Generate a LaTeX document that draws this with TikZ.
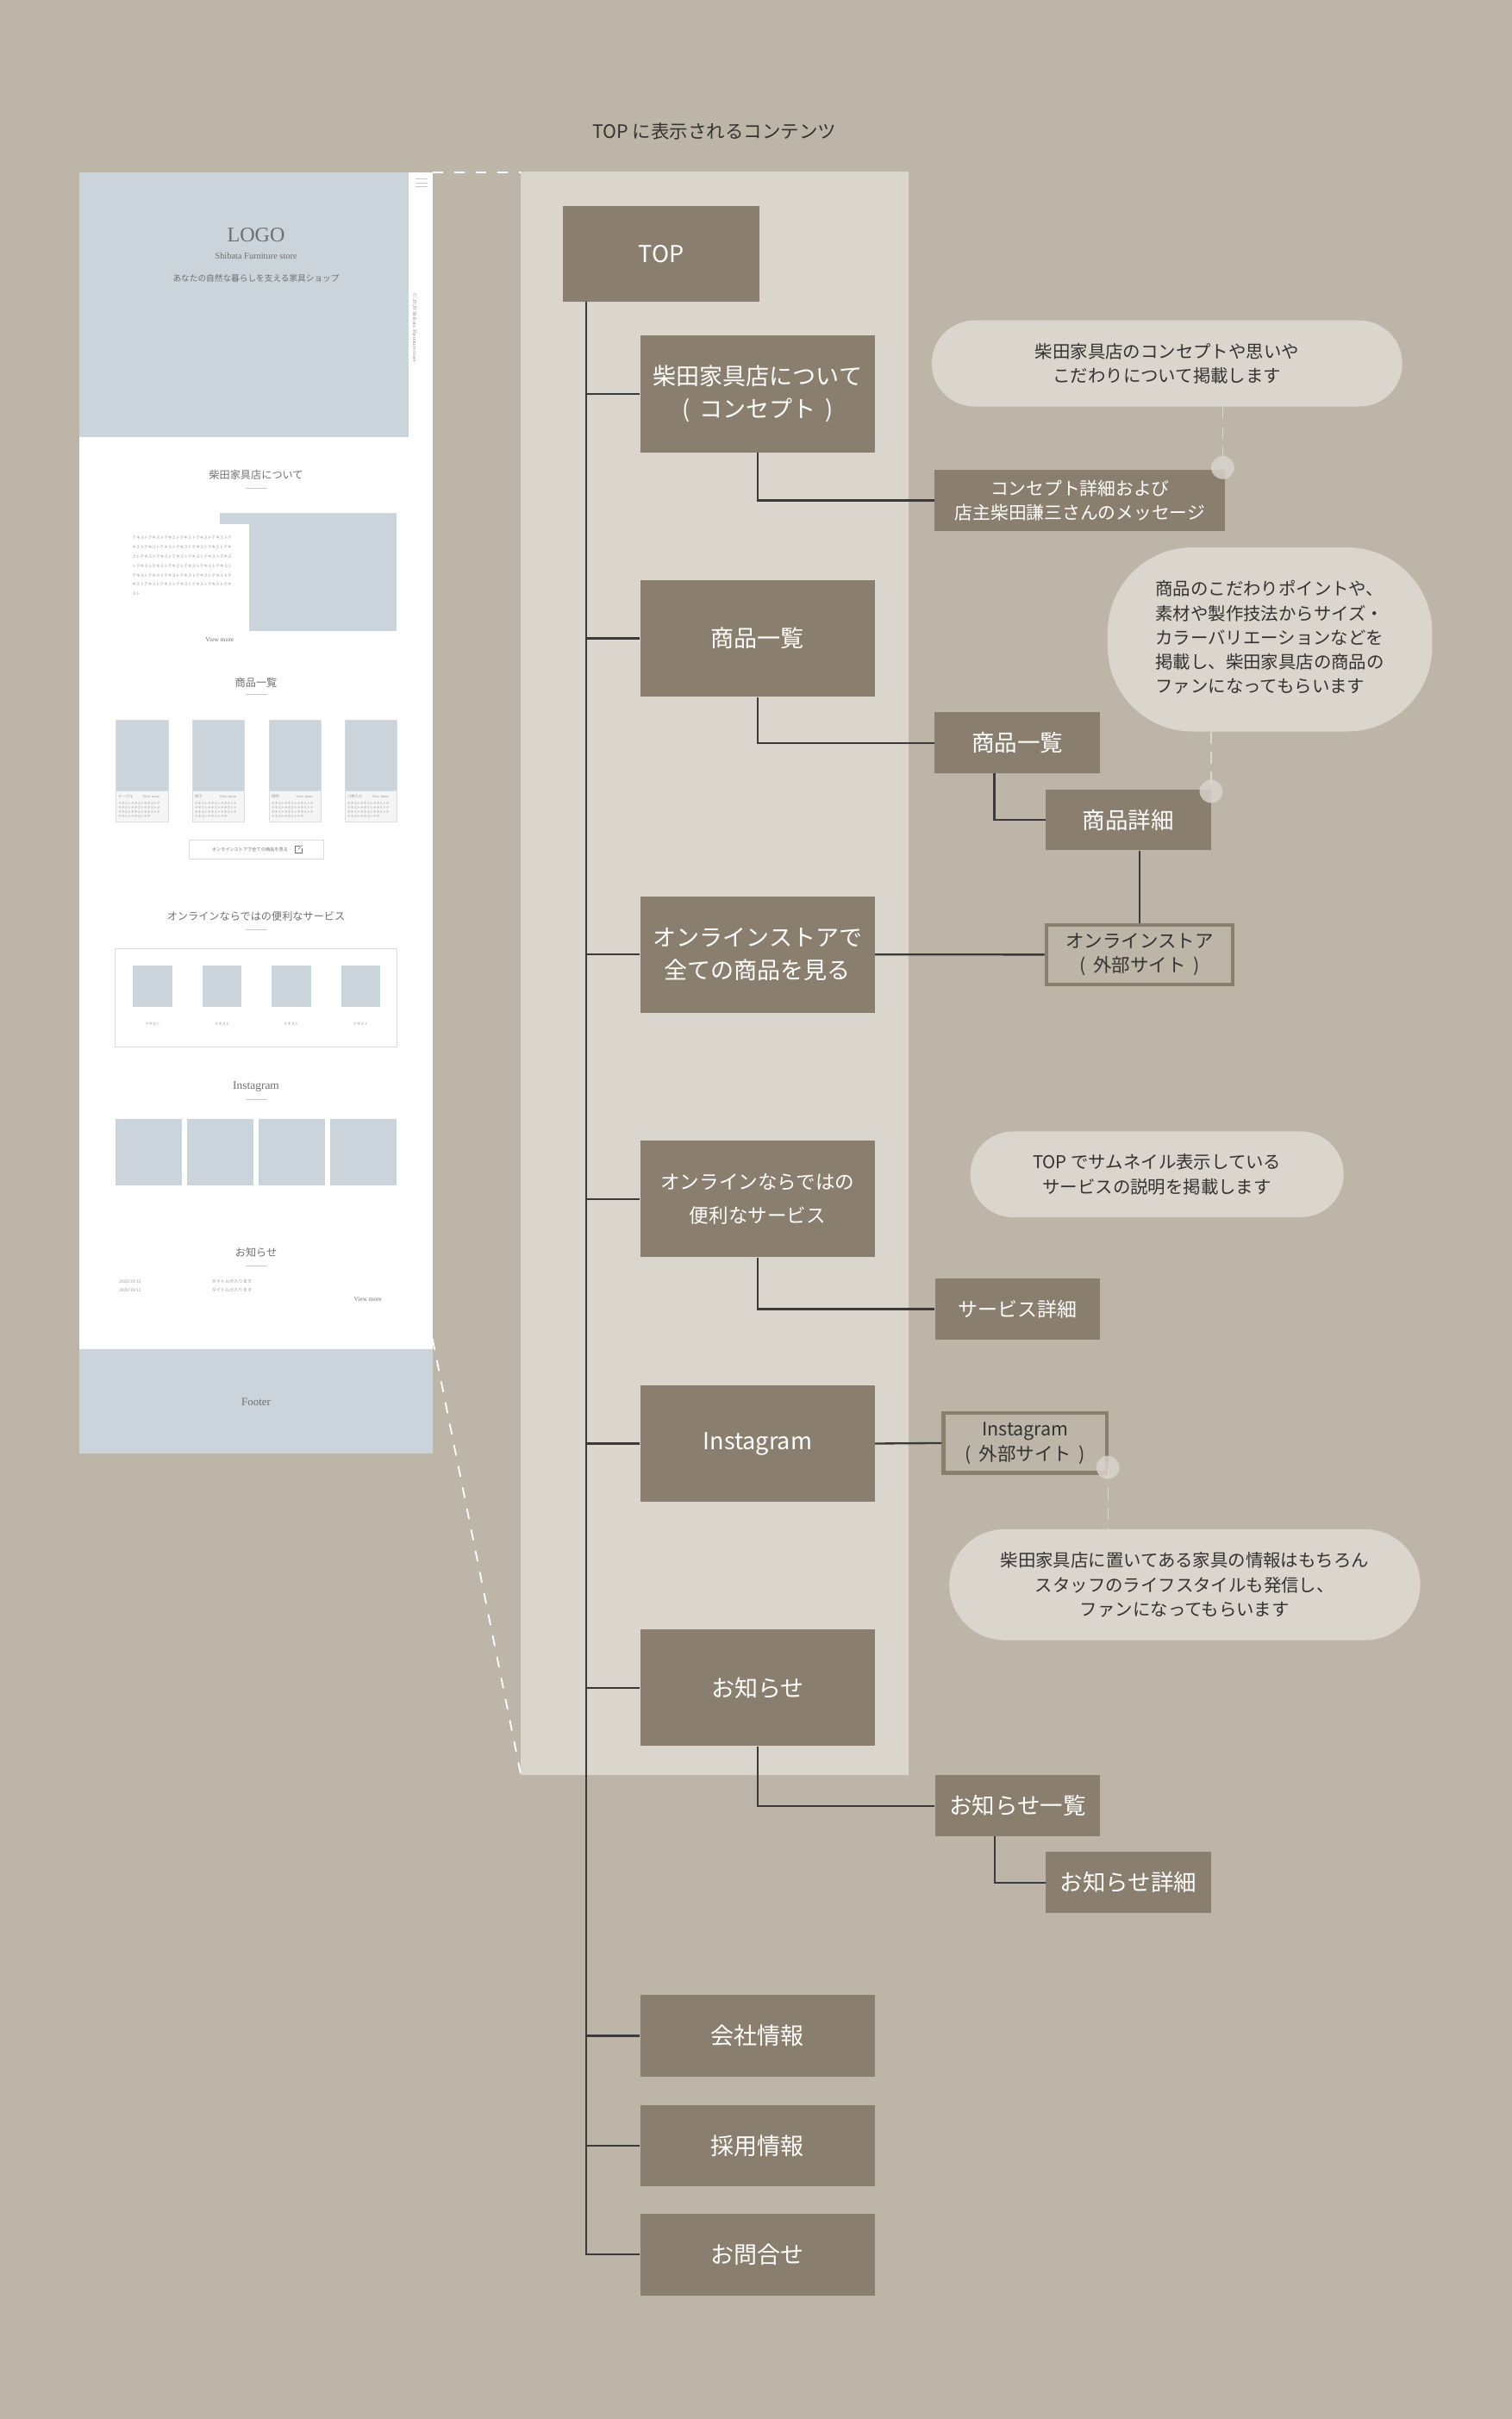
\documentclass[tikz,border=0pt]{standalone}
\usepackage{fontspec}
\setmainfont{Noto Sans CJK JP}
\newfontfamily\mockserif{Liberation Serif}

\definecolor{sitebg}{HTML}{BDB6A8}
\definecolor{panelbg}{HTML}{DAD6CE}
\definecolor{boxbrown}{HTML}{8A7F6E}
\definecolor{linedark}{HTML}{3A3A3A}
\definecolor{inkdark}{HTML}{333333}
\definecolor{mockblue}{HTML}{CBD3DB}
\definecolor{mockink}{HTML}{707070}
\definecolor{mockline}{HTML}{DCDCDC}
\definecolor{cardbg}{HTML}{F5F5F5}

\newcommand{\setfs}[2]{\fontsize{#1}{#2}\selectfont}
\newcommand{\openpar}{\makebox[0.75em][l]{(}}
\newcommand{\closepar}{\makebox[0.75em][r]{)}}

\tikzset{
  mainbox/.style={fill=boxbrown, text=white, inner sep=0pt, align=center,
    minimum width=152, minimum height=75.6, font=\setfs{15.1}{21.4}},
  lowbox/.style={mainbox, minimum height=53},
  subbox/.style={fill=boxbrown, text=white, inner sep=0pt, align=center,
    minimum width=107, minimum height=39.5, font=\setfs{14.8}{18}},
  extbox/.style={draw=boxbrown, line width=2.4, fill=sitebg, text=inkdark,
    inner sep=0pt, align=center, minimum height=38.7, font=\setfs{12}{16}},
  note/.style={fill=panelbg, text=inkdark, inner sep=0pt, align=center,
    font=\setfs{11.4}{15.8}},
  pindot/.style={circle, fill=panelbg, fill opacity=0.8, minimum size=15, inner sep=0pt},
  link/.style={draw=linedark, line width=1.3},
  notelink/.style={draw=panelbg, line width=0.6, dash pattern=on 8 off 5},
  zoomlink/.style={draw=white, line width=1, dash pattern=on 7 off 7},
  mockhead/.style={text=mockink, inner sep=0pt, font=\setfs{6.8}{8}},
  mockrule/.style={draw=mockline!80!gray, line width=0.4},
  mocktext/.style={text=mockink!70, inner sep=0pt, anchor=west},
}

\begin{document}
\begin{tikzpicture}[x=1pt, y=-1pt]
    \useasboundingbox (0,0) rectangle (980,1568);
    \fill[sitebg] (0,0) rectangle (980,1568);

    % heading over the panel
    \node[text=inkdark, font=\setfs{12}{14}] (title) at (463,85) {TOP に表示されるコンテンツ};

    % panel of the TOP contents
    \fill[panelbg] (337.7,111.4) rectangle (589,1150.7);

    % ---- page mockup ----
    \fill[white] (51.4,111.7) rectangle (280.4,874.4);
    \fill[mockblue] (51.4,111.7) rectangle (265,283.4);
    \foreach \y in {116,118.5,121}
        \draw[mockline!80!gray, line width=0.3] (269.4,\y) -- (277,\y);
    \node[text=mockink, inner sep=0pt, font=\mockserif\setfs{13.5}{15}] (logo) at (166,152.6) {LOGO};
    \node[text=mockink, inner sep=0pt, font=\mockserif\setfs{5.8}{7}] (logosub) at (166,166.2) {Shibata Furniture store};
    \node[text=mockink, inner sep=0pt, font=\setfs{5.4}{6}] (catch) at (166,180.3) {あなたの自然な暮らしを支える家具ショップ};
    \node[text=mockink!70, inner sep=0pt, rotate=-90, font=\mockserif\setfs{3.6}{4}] (copyright) at (268.9,212.5) {© 2020 Shibata Furniture store};

    % section headings and their rules
    \node[mockhead] (headabout) at (166,307.6) {柴田家具店について};
    \node[mockhead] (headitems) at (166,442.3) {商品一覧};
    \node[mockhead] (headservice) at (166,593.7) {オンラインならではの便利なサービス};
    \node[mockhead, font=\mockserif\setfs{7.5}{8}] (headinsta) at (166,704.4) {Instagram};
    \node[mockhead] (headnews) at (166,812) {お知らせ};
    \foreach \y in {316.5,450.3,602.5,712.4,820.4}
        \draw[mockrule] (159,\y) -- (173,\y);

    % about block
    \fill[mockblue] (142.5,332.4) rectangle (257.3,409);
    \fill[white] (142.5,340) rectangle (161.7,409);
    \foreach \t [count=\k from 0] in {テキストテキストテキストテキストテキストテキストテ,
        キストテキストテキストテキストテキストテキストテキ,
        ストテキストテキストテキストテキストテキストテキス,
        トテキストテキストテキストテキストテキストテキスト,
        テキストテキストテキストテキストテキストテキストテ,
        キストテキストテキストテキストテキストテキストテキ,
        スト}
        \node[mocktext, font=\setfs{2.6}{3}] (abouttext\k) at (85.5,348.6+6.07*\k) {\t};
    \node[text=mockink, inner sep=0pt, font=\mockserif\setfs{4.2}{5}] (aboutmore) at (142.4,414.5) {View more};

    % item cards
    \foreach \x/\lab [count=\i] in {74.9/テーブル,124.6/椅子,174.3/照明,223.5/小物入れ} {
        \fill[mockblue] (\x,466.9) rectangle ++(34,45.6);
        \fill[cardbg] (\x,512.5) rectangle ++(34,20.1);
        \draw[mockline, line width=0.4] (\x,466.9) rectangle ++(34,65.7);
        \draw[mockline, line width=0.4] (\x,512.5) -- ++(34,0);
        \node[mocktext, font=\setfs{2.4}{3}] (cardlabel\i) at (\x+1.6,516.4) {\lab};
        \node[mocktext, font=\mockserif\setfs{2.5}{3}] (cardmore\i) at (\x+17.3,516.4) {View more};
        \foreach \k in {0,1,2}
            \node[mocktext, font=\setfs{2.1}{3}] (cardtext\i-\k) at (\x+1.6,520.7+2.8*\k) {テキストテキストテキストテ};
        \node[mocktext, font=\setfs{2.1}{3}] (cardtext\i-3) at (\x+1.6,529.1) {テキストテキストテキ};
    }
    \draw[mockline, line width=0.4] (122.6,544.4) rectangle (209.8,556.9);
    \node[text=mockink, inner sep=0pt, font=\setfs{2.9}{3}] (storebutton) at (162,550.6) {オンラインストアで全ての商品を見る};
    \draw[mockink, line width=0.25] (194.3,548.4) -- (191.1,548.4) -- (191.1,552.8) -- (195.5,552.8) -- (195.5,549.6);
    \draw[mockink, line width=0.25] (193.3,550.6) -- (196,547.9);

    % service block
    \draw[mockline, line width=0.4] (74.5,614.8) rectangle (257.3,678.4);
    \foreach \x [count=\i] in {86.3,131.3,176.1,221.1} {
        \fill[mockblue] (\x,626) rectangle ++(25.4,26.6);
        \node[text=mockink!70, inner sep=0pt, font=\setfs{2.4}{3}] (servicetext\i) at (\x+12.7,663.8) {テキスト};
    }

    % instagram block
    \foreach \x in {74.9,121.2,167.6,214}
        \fill[mockblue] (\x,725.4) rectangle ++(42.9,43);

    % news block
    \foreach \y [count=\i] in {830.6,836.4} {
        \node[mocktext, font=\mockserif\setfs{3.1}{4}] (newsdate\i) at (77,\y) {2020/10/12};
        \node[mocktext, font=\setfs{2.9}{4}] (newstitle\i) at (137,\y) {タイトルが入ります};
    }
    \node[text=mockink, inner sep=0pt, font=\mockserif\setfs{4.1}{5}] (newsmore) at (238.5,842.2) {View more};

    % footer
    \fill[mockblue] (51.4,874.4) rectangle (280.4,942.4);
    \node[text=mockink, inner sep=0pt, font=\mockserif\setfs{7.2}{8}] (footer) at (166,908.9) {Footer};

    % zoom lines from the mockup to the panel
    \coordinate (mocktop) at (280.4,111.7);
    \coordinate (mockfoot) at (280.4,868);
    \coordinate (paneltop) at (337.7,111.7);
    \coordinate (panelfoot) at (337.7,1150.7);
    \draw[zoomlink] (mocktop) -- (paneltop);
    \draw[zoomlink] (mockfoot) -- (panelfoot);

    % ---- site map ----
    \node[mainbox, minimum width=127.5, minimum height=62] (top) at (428.6,164.5) {TOP};
    \node[mainbox] (about) at (491.1,255.4) {柴田家具店について\\\openpar コンセプト\closepar};
    \node[mainbox] (items) at (491.1,413.8) {商品一覧};
    \node[mainbox] (store) at (491.1,618.7) {オンラインストアで\\全ての商品を見る};
    \node[mainbox, font=\setfs{12.6}{21.4}] (service) at (491.1,777.2) {オンラインならではの\\便利なサービス};
    \node[mainbox] (insta) at (491.1,935.7) {Instagram};
    \node[mainbox] (news) at (491.1,1094) {お知らせ};
    \node[lowbox] (company) at (491.1,1319.6) {会社情報};
    \node[lowbox] (recruit) at (491.1,1390.8) {採用情報};
    \node[lowbox] (contact) at (491.1,1461.4) {お問合せ};

    % trunk
    \coordinate (trunk) at ([xshift=15.5]top.south west);
    \foreach \n in {about,items,store,service,insta,news,company,recruit,contact}
        \draw[link] (trunk) |- (\n.west);

    % second level
    \node[subbox, minimum width=188.2, font=\setfs{11.6}{15.6}] (aboutdetail) at (700.1,324.3) {コンセプト詳細および\\店主柴田謙三さんのメッセージ};
    \node[subbox] (itemlist) at (659.5,481.5) {商品一覧};
    \node[subbox] (itemdetail) at (731.4,531.4) {商品詳細};
    \node[extbox, minimum width=121] (storeext) at (738.7,618.8) {オンラインストア\\\openpar 外部サイト\closepar};
    \node[subbox, font=\setfs{12.8}{16}] (servicedetail) at (659.7,848.5) {サービス詳細};
    \node[extbox, minimum width=106.1] (instaext) at (664.6,935.4) {Instagram\\\openpar 外部サイト\closepar};
    \node[subbox] (newslist) at (659.7,1170.5) {お知らせ一覧};
    \node[subbox] (newsdetail) at (731.4,1220.3) {お知らせ詳細};

    \draw[link] (about.south) |- (aboutdetail.west);
    \draw[link] (items.south) |- (itemlist.west);
    \draw[link] ([xshift=-15]itemlist.south) |- (itemdetail.west);
    \draw[link] (storeext.north |- itemdetail.south) -- (storeext.north);
    \draw[link] (store.east) -- (storeext.west);
    \draw[link] (service.south) |- (servicedetail.west);
    \draw[link] (insta.east) -- (instaext.west);
    \draw[link] (news.south) |- (newslist.west);
    \draw[link] ([xshift=-15]newslist.south) |- (newsdetail.west);

    % notes
    \node[note, rounded corners=27.8, minimum width=305, minimum height=55.8] (noteabout) at (756.5,235.6)
        {柴田家具店のコンセプトや思いや\\こだわりについて掲載します};
    \node[note, rounded corners=55, minimum width=210.4, minimum height=119.3] (noteitems) at (823.2,414.5)
        {\begin{tabular}{@{}l@{}}商品のこだわりポイントや、\\素材や製作技法からサイズ・\\カラーバリエーションなどを\\掲載し、柴田家具店の商品の\\ファンになってもらいます\end{tabular}};
    \node[note, rounded corners=27.7, minimum width=242, minimum height=55.6] (noteservice) at (750,761.2)
        {TOP でサムネイル表示している\\サービスの説明を掲載します};
    \node[note, rounded corners=35.9, minimum width=305.3, minimum height=71.9] (noteinsta) at (768,1027.2)
        {柴田家具店に置いてある家具の情報はもちろん\\スタッフのライフスタイルも発信し、\\ファンになってもらいます};

    % pins and their dashed links
    \node[pindot] (dotabout) at ([xshift=-1.8,yshift=1.3]aboutdetail.north east) {};
    \node[pindot] (dotitems) at ([yshift=-1.5]itemdetail.north east) {};
    \node[pindot] (dotinsta) at ([xshift=-0.7,yshift=4.8]instaext.south east) {};
    \draw[notelink] (noteabout.south -| dotabout) -- (dotabout.center);
    \draw[notelink] (noteitems.south -| dotitems) -- (dotitems.center);
    \draw[notelink] (dotinsta.center) -- (dotinsta |- noteinsta.north);
\end{tikzpicture}
\end{document}
